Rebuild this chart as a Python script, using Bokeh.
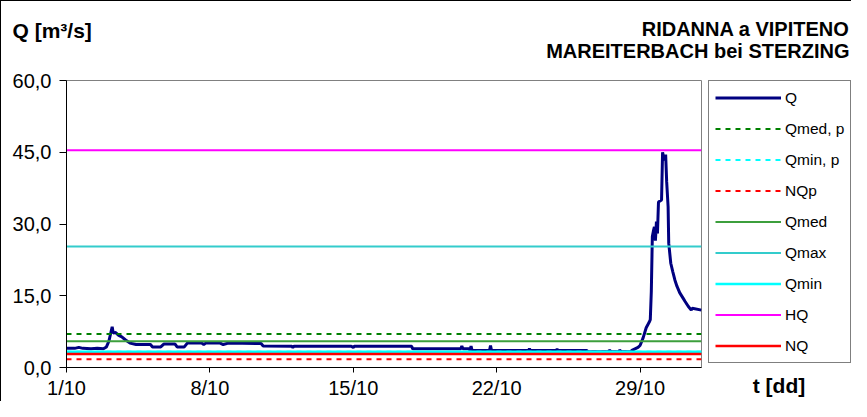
from bokeh.plotting import figure
from bokeh.models import Range1d, FixedTicker, Label
from bokeh.layouts import column, row
from bokeh.embed import file_html
from bokeh.resources import INLINE

# ---- data (days since 1/10 00:00, discharge m3/s) ----
q_day = [0.0, 0.4, 0.6, 0.8, 1.2, 1.5, 1.8, 1.95, 2.07, 2.15, 2.23, 2.28, 2.4, 2.55, 2.7,
         2.87, 3.1, 3.4, 4.1, 4.2, 4.6, 4.75, 5.3, 5.4, 5.75, 5.9, 6.6, 6.7, 6.8, 7.5,
         7.65, 7.9, 9.5, 9.6, 11.0, 11.05, 11.1, 13.9, 14.0, 14.05, 16.85, 16.9, 19.25,
         19.3, 19.35, 19.65, 19.7, 19.75, 19.8, 20.65, 20.7, 20.75, 22.55, 22.6, 22.65,
         23.9, 23.95, 24.0, 25.4, 25.45, 26.45, 26.5, 26.6, 26.95, 27.0, 27.1, 27.55,
         27.6, 27.9, 28.0, 28.15, 28.3, 28.45, 28.5, 28.55, 28.6, 28.65, 28.7, 28.75,
         28.8, 28.85, 28.9, 29.05, 29.1, 29.15, 29.2, 29.25, 29.3, 29.37, 29.4, 29.5,
         29.6, 29.7, 29.8, 29.94, 30.1, 30.2, 30.35, 30.5, 30.55, 31.0]
q_val = [4.0, 4.0, 4.2, 4.0, 3.9, 4.0, 3.9, 4.3, 5.5, 7.0, 8.5, 7.2, 7.3, 6.7, 6.4,
         5.8, 5.1, 4.8, 4.8, 4.3, 4.3, 4.9, 4.9, 4.3, 4.3, 5.1, 5.1, 4.8, 5.1, 5.1,
         4.8, 5.1, 5.0, 4.5, 4.45, 4.2, 4.45, 4.45, 4.2, 4.45, 4.45, 3.9, 3.9,
         4.5, 3.9, 3.9, 3.55, 4.5, 3.55, 3.55, 4.6, 3.55, 3.55, 3.9, 3.55,
         3.55, 3.8, 3.55, 3.55, 3.3, 3.3, 3.6, 3.3, 3.3, 3.6, 3.3, 3.3,
         3.6, 4.2, 4.6, 6.2, 8.3, 9.5, 10.0, 15.9, 27.4, 28.5, 29.4, 26.5,
         30.5, 28.0, 34.6, 35.0, 45.0, 44.0, 43.3, 44.5, 38.8, 33.6, 26.0, 21.8,
         20.0, 18.3, 17.0, 15.6, 14.5, 13.8, 12.8, 12.0, 12.4, 12.0]

period = [0, 31]
ref_names = ["Qmed, p", "Qmin, p", "NQp", "Qmed", "Qmax", "Qmin", "HQ", "NQ"]
ref_vals = [7.0, 3.3, 1.7, 5.5, 25.3, 3.3, 45.4, 2.8]

x_ticks = [0, 7, 14, 21, 28]
x_labels = ["1/10", "8/10", "15/10", "22/10", "29/10"]
y_ticks = [0, 15, 30, 45, 60]
y_labels = ["0,0", "15,0", "30,0", "45,0", "60,0"]

# ---- styles ----
q_style = dict(color="#000080", width=3, dash="solid")
ref_styles = {
    "Qmed, p": dict(color="#008000", width=2, dash="5 5"),
    "Qmin, p": dict(color="#00FFFF", width=2, dash="5 5"),
    "NQp": dict(color="#FF0000", width=2, dash="5 5"),
    "Qmed": dict(color="#3C9F3C", width=2, dash="solid"),
    "Qmax": dict(color="#33CCCC", width=2, dash="solid"),
    "Qmin": dict(color="#00FFFF", width=2.5, dash="solid"),
    "HQ": dict(color="#FF00FF", width=2, dash="solid"),
    "NQ": dict(color="#FF0000", width=2.5, dash="solid"),
}
FONT = "Liberation Sans"
BORDER_TOP, BORDER_BOTTOM = 12, 33


def text_label(fig, text, sx, sy, size="20px", align="left"):
    fig.add_layout(Label(x=sx, y=sy, x_units="screen", y_units="screen", text=text,
                         text_font=FONT, text_font_style="bold", text_font_size=size,
                         text_color="black", text_baseline="alphabetic",
                         text_align=align))


# ---- header with titles ----
header = figure(width=850, height=67, output_backend="svg", toolbar_location=None,
                x_axis_location=None, y_axis_location=None, min_border=0,
                x_range=Range1d(0, 1), y_range=Range1d(0, 1))
header.outline_line_color = None
header.grid.visible = False
text_label(header, "Q [m³/s]", 11, 38, size="21px")
text_label(header, "RIDANNA a VIPITENO", 848, 40, align="right")
text_label(header, "MAREITERBACH bei STERZING", 848, 18, align="right")

# ---- main plot ----
p = figure(width=705, height=333, output_backend="svg", toolbar_location=None,
           x_range=Range1d(period[0], period[1]), y_range=Range1d(0, 60),
           min_border_left=65, min_border_right=5,
           min_border_top=BORDER_TOP, min_border_bottom=BORDER_BOTTOM)
p.outline_line_color = "#808080"
p.outline_line_width = 1
p.xgrid.visible = False
p.ygrid.visible = False

p.line(q_day, q_val, color=q_style["color"], line_width=q_style["width"])
for name, val in zip(ref_names, ref_vals):
    s = ref_styles[name]
    p.line(period, [val, val], color=s["color"], line_width=s["width"], line_dash=s["dash"])

for ax in (p.xaxis, p.yaxis):
    ax.axis_line_color = "black"
    ax.major_tick_line_color = "black"
    ax.minor_tick_line_color = None
    ax.major_tick_in = 0
    ax.major_label_text_font = FONT
    ax.major_label_text_font_size = "20px"
    ax.major_label_text_color = "black"

p.xaxis.ticker = FixedTicker(ticks=x_ticks)
p.xaxis.major_label_overrides = dict(zip(x_ticks, x_labels))
p.xaxis.major_tick_out = 5
p.xaxis.major_label_standoff = 4
p.yaxis.ticker = FixedTicker(ticks=y_ticks)
p.yaxis.major_label_overrides = dict(zip(y_ticks, y_labels))
p.yaxis.major_tick_out = 7
p.yaxis.major_label_standoff = 8

# ---- side panel: legend + time axis title ----
# same series drawn here only to feed the legend; the view range keeps them out of sight
side = figure(width=145, height=333, output_backend="svg", toolbar_location=None,
              x_axis_location="below", y_axis_location=None,
              min_border_left=0, min_border_right=0,
              min_border_top=BORDER_TOP, min_border_bottom=BORDER_BOTTOM,
              x_range=Range1d(0, 1), y_range=Range1d(-2, -1))
side.outline_line_color = None
side.grid.visible = False
side.line(q_day, q_val, color=q_style["color"], line_width=q_style["width"], legend_label="Q")
for name, val in zip(ref_names, ref_vals):
    s = ref_styles[name]
    side.line(period, [val, val], color=s["color"], line_width=s["width"],
              line_dash=s["dash"], legend_label=name)

sx = side.xaxis[0]
sx.ticker = FixedTicker(ticks=[])
sx.axis_line_color = None
sx.major_tick_line_color = None
sx.minor_tick_line_color = None
sx.axis_label = "t [dd]"
sx.axis_label_text_font = FONT
sx.axis_label_text_font_style = "bold"
sx.axis_label_text_font_size = "21px"
sx.axis_label_text_color = "black"
sx.axis_label_standoff = 6

leg = side.legend[0]
leg.location = (2, 4)
leg.orientation = "vertical"
leg.glyph_width = 66
leg.glyph_height = 21
leg.label_height = 21
leg.spacing = 10
leg.padding = 6
leg.margin = 0
leg.label_standoff = 4
leg.border_line_color = "black"
leg.border_line_width = 1
leg.background_fill_color = "white"
leg.background_fill_alpha = 1.0
leg.label_text_font = FONT
leg.label_text_font_size = "15.5px"
leg.label_text_color = "black"

layout = column(header, row(p, side),
                styles={"border-left": "1px solid #000000", "border-top": "1px solid #000000"})

open("out.html", "w").write(file_html(layout, INLINE))
